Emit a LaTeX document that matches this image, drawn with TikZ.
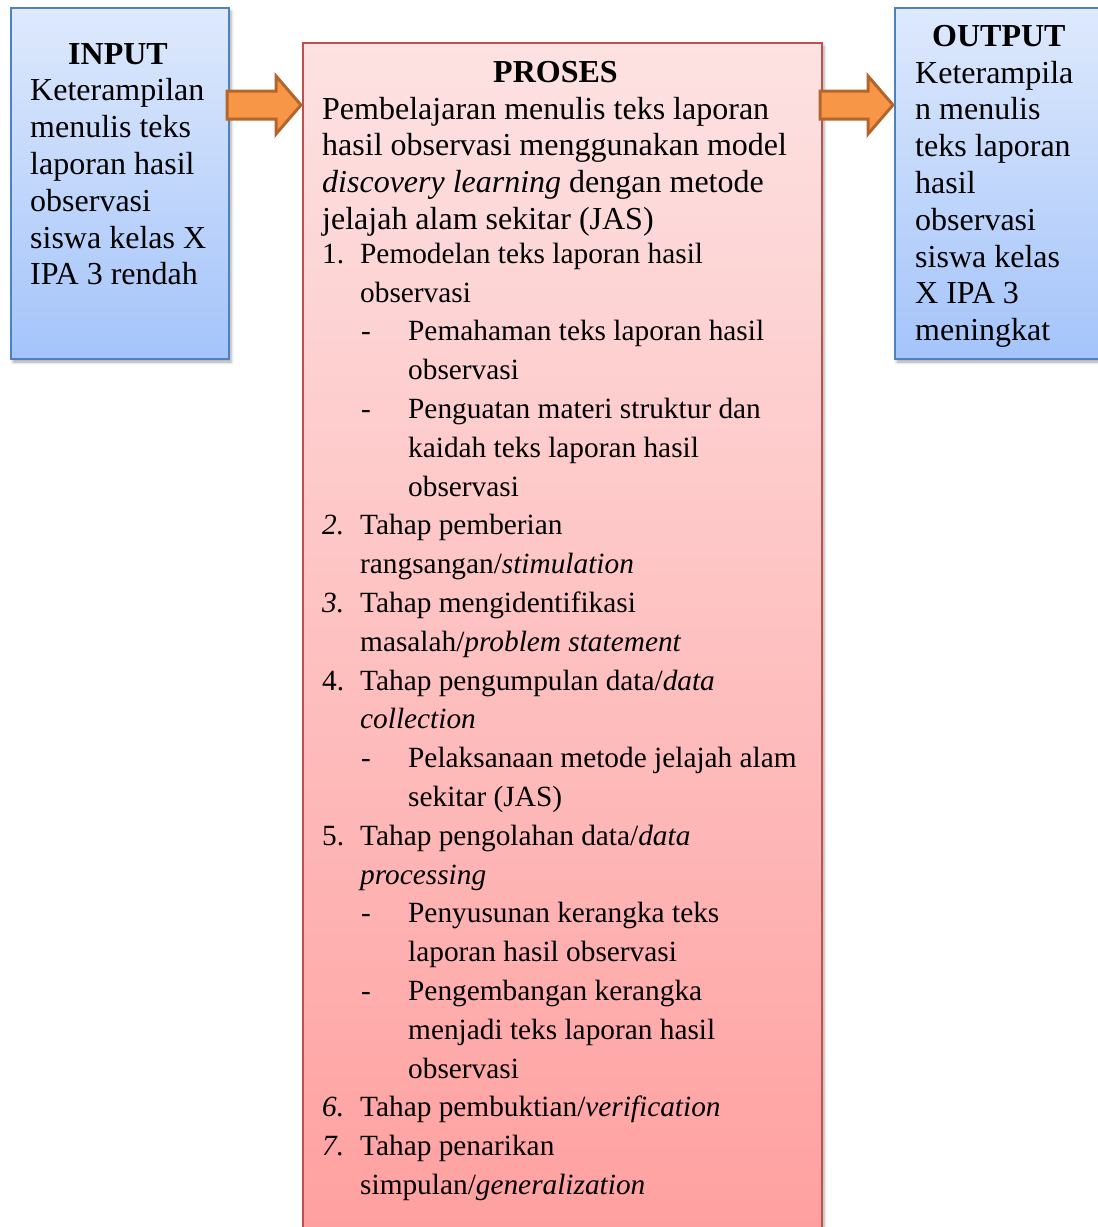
\documentclass[tikz,border=0pt]{standalone}
\usepackage{fontspec}
\setmainfont{Liberation Serif}
\usetikzlibrary{calc,shadows.blur}
\definecolor{birumuda}{RGB}{222,233,252}
\definecolor{birutua}{RGB}{164,196,250}
\definecolor{birugaris}{RGB}{79,129,189}
\definecolor{merahmuda}{RGB}{253,226,226}
\definecolor{merahtua}{RGB}{255,158,158}
\definecolor{merahgaris}{RGB}{192,80,77}
\definecolor{oranye}{RGB}{247,150,70}
\definecolor{oranyegaris}{RGB}{178,102,44}
\tikzset{
  bayang/.style={blur shadow={shadow xshift=2pt,shadow yshift=-3pt,shadow blur radius=3pt,shadow opacity=35}},
  kotakbiru/.style={draw=birugaris,line width=2pt,top color=birumuda,bottom color=birutua,bayang,anchor=north west,minimum width=218pt,minimum height=351pt},
  kotakmerah/.style={draw=merahgaris,line width=2pt,top color=merahmuda,bottom color=merahtua,bayang,anchor=north west,minimum width=519pt,minimum height=1220pt},
  isi/.style={inner sep=0pt,anchor=north west,align=flush left,font=\fontsize{32}{36.8}\selectfont},
  panah/.style={fill=oranye,draw=oranyegaris,line width=3pt,line join=miter}
}
\newcommand{\blokpanah}[2]{%
  \draw[panah] ($(#1)+(0,-14)$) -- ($(#2)+(-25,-14)$) -- ($(#2)+(-25,-29)$) -- (#2)
    -- ($(#2)+(-25,29)$) -- ($(#2)+(-25,14)$) -- ($(#1)+(0,14)$) -- cycle;}
\newcommand{\nom}[1]{\makebox[38pt][l]{#1}}
\newcommand{\strip}{\hspace*{38pt}\makebox[48pt][l]{\hspace{1pt}-}}
\newcommand{\lanjut}{\hspace*{38pt}}
\newcommand{\lanjutt}{\hspace*{86pt}}
\begin{document}
\begin{tikzpicture}[x=1pt,y=-1pt]
\path[use as bounding box,clip] (0,0) rectangle (1098,1227);
\node[kotakbiru] (input) at (10,7) {};
\node[kotakmerah] (proses) at (302,42) {};
\node[kotakbiru] (output) at (894,7) {};
\coordinate (garis) at (0,105);
\coordinate (ekor1) at ($(input.east |- garis)+(-3,0)$);
\coordinate (ujung1) at ($(proses.west |- garis)+(-1,0)$);
\coordinate (ekor2) at ($(proses.east |- garis)+(-3,0)$);
\coordinate (ujung2) at ($(output.west |- garis)+(-1,0)$);
\blokpanah{ekor1}{ujung1}
\blokpanah{ekor2}{ujung2}
\node[isi,text width=190pt] (teksinput) at (30,43) {\hspace*{38pt}\textbf{INPUT}\\
Keterampilan\\ menulis teks\\ laporan hasil\\ observasi\\ siswa kelas X\\ IPA 3 rendah};
\node[isi,text width=495pt] (teksproses) at (322,61) {\hspace*{171pt}\textbf{PROSES}\\
Pembelajaran menulis teks laporan\\
hasil observasi menggunakan model\\
\textit{discovery learning} dengan metode\\
jelajah alam sekitar (JAS)\\[-3pt]
\fontsize{29.33}{36.8}\selectfont
\nom{1.}Pemodelan teks laporan hasil\\[2pt]
\lanjut observasi\\[2pt]
\strip Pemahaman teks laporan hasil\\[2pt]
\lanjutt observasi\\[2pt]
\strip Penguatan materi struktur dan\\[2pt]
\lanjutt kaidah teks laporan hasil\\[2pt]
\lanjutt observasi\\[2pt]
\nom{\textit{2.}}Tahap pemberian\\[2pt]
\lanjut rangsangan/\textit{stimulation}\\[2pt]
\nom{\textit{3.}}Tahap mengidentifikasi\\[2pt]
\lanjut masalah/\textit{problem statement}\\[2pt]
\nom{4.}Tahap pengumpulan data/\textit{data}\\[2pt]
\lanjut\textit{collection}\\[2pt]
\strip Pelaksanaan metode jelajah alam\\[2pt]
\lanjutt sekitar (JAS)\\[2pt]
\nom{5.}Tahap pengolahan data/\textit{data}\\[2pt]
\lanjut\textit{processing}\\[2pt]
\strip Penyusunan kerangka teks\\[2pt]
\lanjutt laporan hasil observasi\\[2pt]
\strip Pengembangan kerangka\\[2pt]
\lanjutt menjadi teks laporan hasil\\[2pt]
\lanjutt observasi\\[2pt]
\nom{\textit{6.}}Tahap pembuktian/\textit{verification}\\[2pt]
\nom{\textit{7.}}Tahap penarikan\\[2pt]
\lanjut simpulan/\textit{generalization}};
\node[isi,text width=180pt] (teksoutput) at (915,25) {\hspace*{17pt}\textbf{OUTPUT}\\
Keterampila\\ n menulis\\ teks laporan\\ hasil\\ observasi\\ siswa kelas\\ X IPA 3\\ meningkat};
\end{tikzpicture}
\end{document}
